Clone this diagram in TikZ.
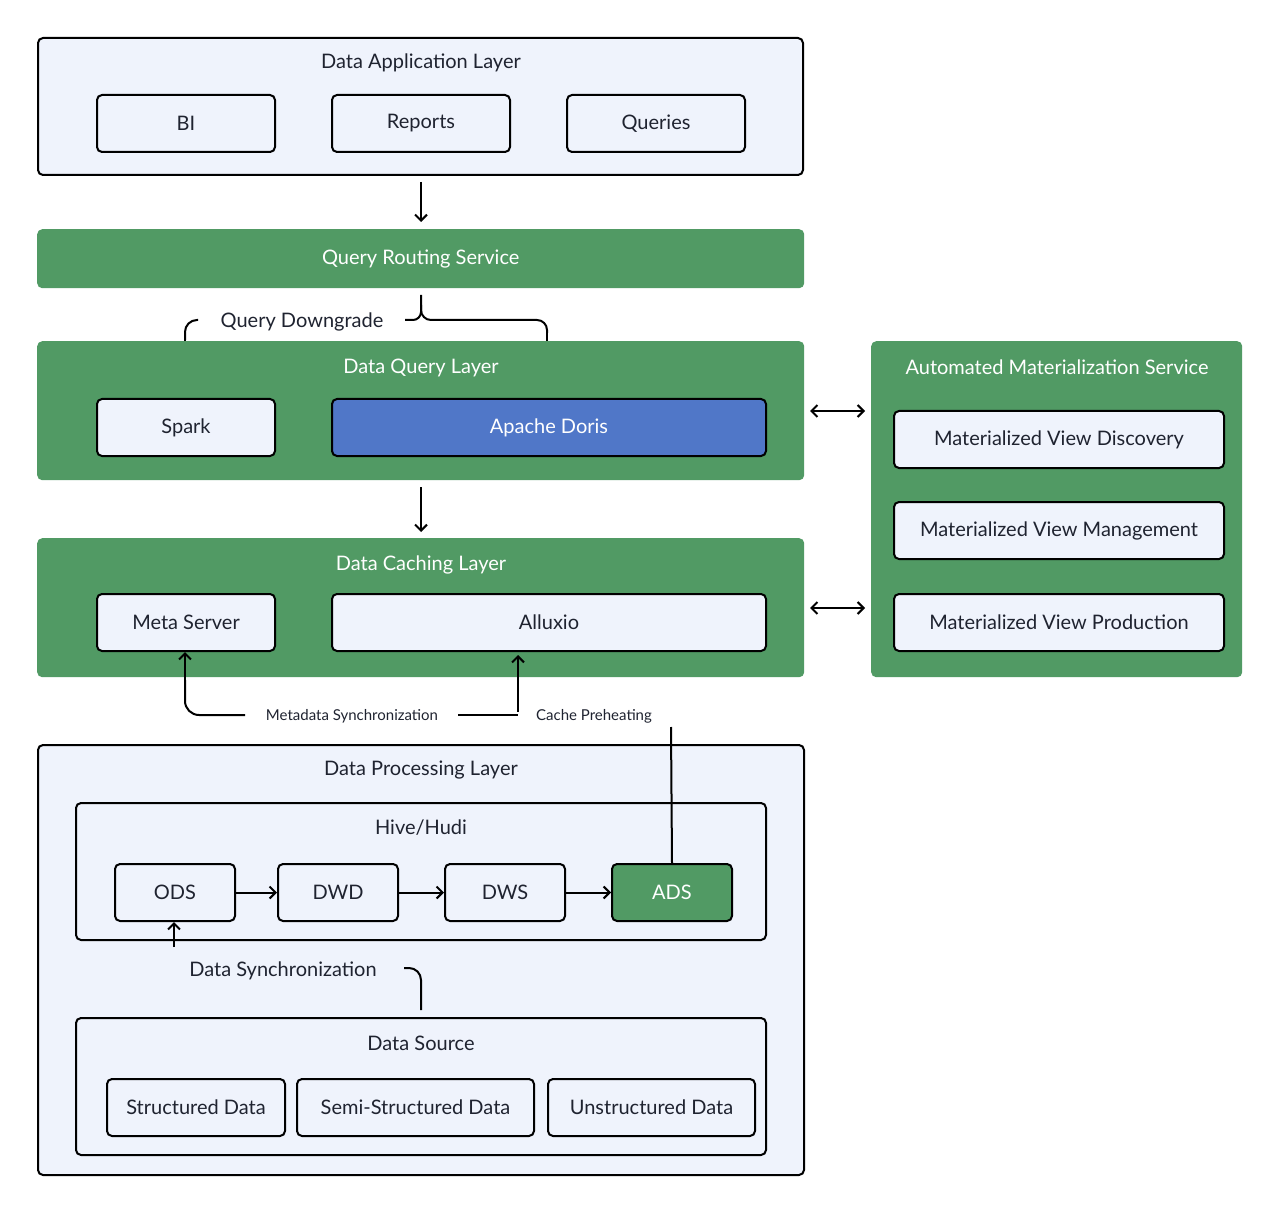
\documentclass[tikz,border=0pt]{standalone}
\usepackage{fontspec}
\setmainfont{Lato}
\usetikzlibrary{arrows.meta}
\definecolor{lf}{HTML}{EFF3FC}
\definecolor{gr}{HTML}{519A64}
\definecolor{bl}{HTML}{5077C8}
\definecolor{tx}{HTML}{1F2330}
\begin{document}
\begin{tikzpicture}[x=1pt,y=-1pt,
  every node/.style={text=tx,font=\fontsize{20}{24}\selectfont},
  layer/.style={draw=black,line width=2pt,fill=lf,rounded corners=5pt},
  glayer/.style={fill=gr,rounded corners=5pt},
  box/.style={draw=black,line width=2pt,fill=lf,rounded corners=5pt,inner sep=0pt},
  ttl/.style={text=tx},
  wt/.style={text=white},
  arr/.style={-{Straight Barb[length=6pt,width=12pt]},line width=2pt,black},
  ln/.style={line width=2pt,black},
  sm/.style={font=\fontsize{15}{18}\selectfont}]
\useasboundingbox (0,0) rectangle (1280,1214);
\newcommand{\bx}[5][box]{\node[#1,minimum width=#4,minimum height=57pt,anchor=north west] (#2) at #3 {#5};}
% app layer
\draw[layer] (38,38) rectangle (803,175);
\node[ttl] (tapp) at (421,63) {Data Application Layer};
\bx{bi}{(96,94)}{178pt}{BI}
\bx{rep}{(331,94)}{178pt}{Reports}
\bx{que}{(566,94)}{178pt}{Queries}
\coordinate (a1) at (421,182);
\coordinate (a2) at (421,222);
\draw[arr] (a1) -- (a2);
% routing
\node[glayer,minimum width=767pt,minimum height=59pt,anchor=north west] (qrs) at (37,229) {};
\node[wt] at (qrs.center) {Query Routing Service};
% downgrade
\node (qd) at (302,322) {Query Downgrade};
\coordinate (b0) at (421,295);
\draw[ln,rounded corners=10pt] (b0) -- (421,320) -- (547,320) -- (547,333);
\draw[ln,rounded corners=8pt] (421,305) -- (421,320) -- (405,320);
\draw[arr] (547,330) -- (547,390);
\draw[ln,rounded corners=12pt] (198,320) -- (185,320) -- (185,340);
\draw[arr] (185,335) -- (185,390);
% query layer
\node[glayer,minimum width=767pt,minimum height=139pt,anchor=north west] (dql) at (37,341) {};
\node[wt] at (421,368) {Data Query Layer};
\bx{spark}{(96,398)}{178pt}{Spark}
\bx[box,fill=bl,text=white]{doris}{(331,398)}{434pt}{Apache Doris}
\draw[arr] (421,487) -- (421,532);
% caching
\node[glayer,minimum width=767pt,minimum height=139pt,anchor=north west] (dcl) at (37,538) {};
\node[wt] at (421,565) {Data Caching Layer};
\bx{meta}{(96,593)}{178pt}{Meta Server}
\bx{allu}{(331,593)}{434pt}{Alluxio}
% auto mv
\node[glayer,minimum width=371pt,minimum height=336pt,anchor=north west] (amv) at (871,341) {};
\node[wt] at (1057,367) {Automated Materialization Service};
\bx{mvd}{(893,410)}{330pt}{Materialized View Discovery}
\bx{mvm}{(893,501)}{330pt}{Materialized View Management}
\bx{mvp}{(893,593)}{330pt}{Materialized View Production}
\draw[arr,{Straight Barb[length=6pt,width=12pt]}-{Straight Barb[length=6pt,width=12pt]}] (810,411) -- (865,411);
\draw[arr,{Straight Barb[length=6pt,width=12pt]}-{Straight Barb[length=6pt,width=12pt]}] (810,608) -- (865,608);
% sync labels
\node[sm] (ms) at (352,716) {Metadata Synchronization};
\node[sm] (cp) at (594,716) {Cache Preheating};
\draw[ln,rounded corners=14pt] (245,715) -- (185,715) -- (185,680);
\draw[arr] (185,690) -- (meta.south west -| 185,655);
\draw[ln] (458,715) -- (518,715);
\draw[arr] (518,712) -- (518,655);
% processing
\draw[layer] (38,745) rectangle (804,1175);
\node[ttl] at (421,770) {Data Processing Layer};
\draw[layer] (76,803) rectangle (766,940);
\node[ttl] at (421,828) {Hive/Hudi};
\bx{ods}{(114,863)}{120pt}{ODS}
\bx{dwd}{(277,863)}{120pt}{DWD}
\bx{dws}{(444,863)}{120pt}{DWS}
\bx[box,fill=gr,text=white]{ads}{(611,863)}{120pt}{ADS}
\draw[arr] (ods) -- (dwd);
\draw[arr] (dwd) -- (dws);
\draw[arr] (dws) -- (ads);
\coordinate (c1) at (671,727);
\draw[ln] (ads.north) -- (c1);
\coordinate (d1) at (174,947);
\draw[arr] (d1) -- (ods.south -| d1);
\node (ds) at (283,971) {Data Synchronization};
\draw[ln,rounded corners=12pt] (404,968) -- (421,968) -- (421,1010);
% data source
\draw[layer] (76,1018) rectangle (766,1155);
\node[ttl] at (421,1043) {Data Source};
\bx{sd}{(106,1078)}{178pt}{Structured Data}
\bx{ssd}{(296,1078)}{237pt}{Semi-Structured Data}
\bx{ud}{(547,1078)}{207pt}{Unstructured Data}
\end{tikzpicture}
\end{document}
